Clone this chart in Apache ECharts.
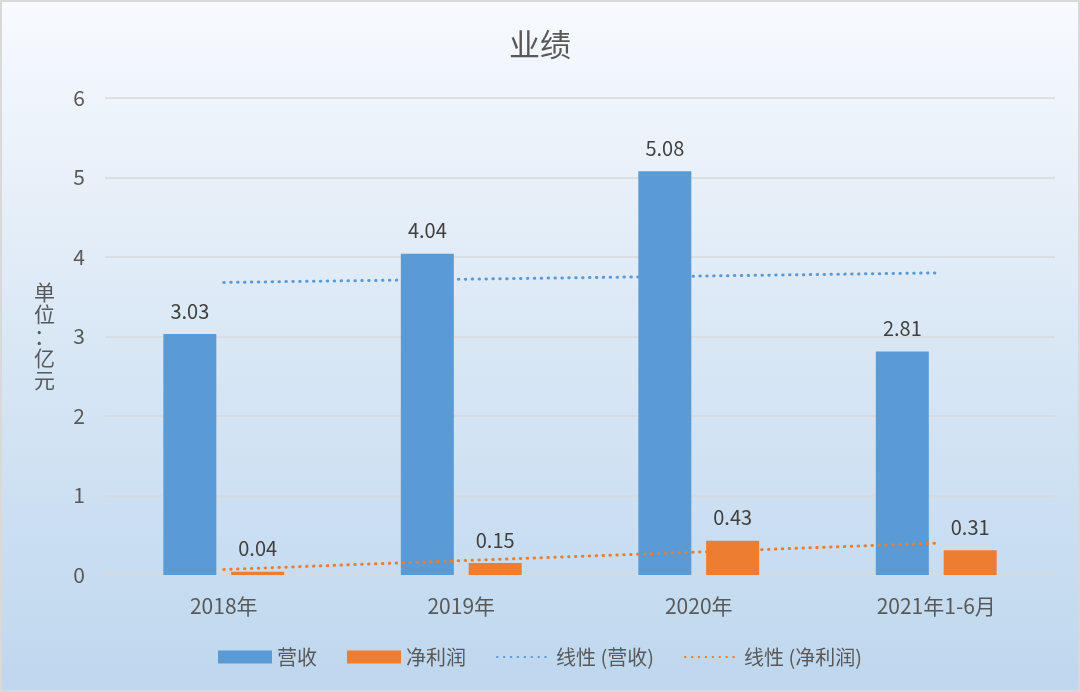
<!DOCTYPE html>
<html>
<head>
<meta charset="utf-8">
<script src="https://cdn.jsdelivr.net/npm/echarts@6/dist/echarts.min.js"></script>
<style>
html,body{margin:0;padding:0;background:#fff;}
#c{width:1080px;height:692px;}
</style>
</head>
<body>
<div id="c"></div>
<script>
var categories = ['2018年', '2019年', '2020年', '2021年1-6月'];
var revenue = [3.03, 4.04, 5.08, 2.81];
var netProfit = [0.04, 0.15, 0.43, 0.31];
var trendRevenue = [3.68, 3.72, 3.76, 3.80];
var trendProfit = [0.07, 0.18, 0.29, 0.40];
var yTicks = [0, 1, 2, 3, 4, 5, 6];

var FONT = '"Noto Sans CJK SC", "Noto Sans", sans-serif';
var chart = echarts.init(document.getElementById('c'), null, {renderer: 'canvas'});
var dotStyle = function (color) {
  return {color: color, width: 3, type: [0.5, 6.4], cap: 'round'};
};
chart.setOption({
  backgroundColor: {
    type: 'linear', x: 0, y: 0, x2: 0, y2: 1,
    colorStops: [
      {offset: 0, color: '#f8fafe'},
      {offset: 0.5, color: '#d9e7f5'},
      {offset: 1, color: '#bed7ee'}
    ]
  },
  textStyle: {fontFamily: FONT},
  title: {
    text: '业绩', left: 'center', top: 24,
    textStyle: {fontFamily: FONT, fontSize: 31, fontWeight: 'normal', color: '#595959'}
  },
  graphic: [
    {type: 'rect', shape: {x: 1, y: 1, width: 1078, height: 690},
      style: {fill: 'none', stroke: '#d9d9d9', lineWidth: 2}, silent: true, z: 100},
    {type: 'text', left: 34, top: 281,
      style: {text: '单\n位\n：\n亿\n元', font: '21px ' + FONT, fill: '#595959', lineHeight: 22, align: 'center'}}
  ],
  legend: {
    bottom: 20, left: 'center',
    itemWidth: 54, itemHeight: 13, itemGap: 30,
    textStyle: {fontFamily: FONT, fontSize: 20, color: '#595959'},
    data: [
      {name: '营收', icon: 'rect'},
      {name: '净利润', icon: 'rect'},
      {name: '线性 (营收)', itemStyle: {opacity: 0}},
      {name: '线性 (净利润)', itemStyle: {opacity: 0}}
    ]
  },
  grid: {left: 105, right: 25, top: 98, bottom: 117},
  xAxis: {
    type: 'category', data: categories,
    axisLine: {lineStyle: {color: '#d9d9d9', width: 1.5}},
    axisTick: {show: false},
    axisLabel: {fontFamily: FONT, fontSize: 21, color: '#595959', margin: 21}
  },
  yAxis: {
    type: 'value', min: yTicks[0], max: yTicks[yTicks.length - 1], interval: 1,
    axisLine: {show: false}, axisTick: {show: false},
    splitLine: {lineStyle: {color: '#d9d9d9', width: 1.5}},
    axisLabel: {fontFamily: FONT, fontSize: 21, color: '#595959', margin: 20}
  },
  series: [
    {name: '营收', type: 'bar', data: revenue, barWidth: 53, barGap: '28%',
      itemStyle: {color: '#5b9bd5'},
      label: {show: true, position: 'top', distance: 13, fontFamily: FONT, fontSize: 20, color: '#404040'}},
    {name: '净利润', type: 'bar', data: netProfit, barWidth: 53,
      itemStyle: {color: '#ed7d31'},
      label: {show: true, position: 'top', distance: 13, fontFamily: FONT, fontSize: 20, color: '#404040'}},
    {name: '线性 (营收)', type: 'line', data: trendRevenue, symbol: 'none',
      itemStyle: {color: '#5b9bd5'}, lineStyle: dotStyle('#5b9bd5'), z: 5},
    {name: '线性 (净利润)', type: 'line', data: trendProfit, symbol: 'none',
      itemStyle: {color: '#ed7d31'}, lineStyle: dotStyle('#ed7d31'), z: 5}
  ]
});
</script>
</body>
</html>
